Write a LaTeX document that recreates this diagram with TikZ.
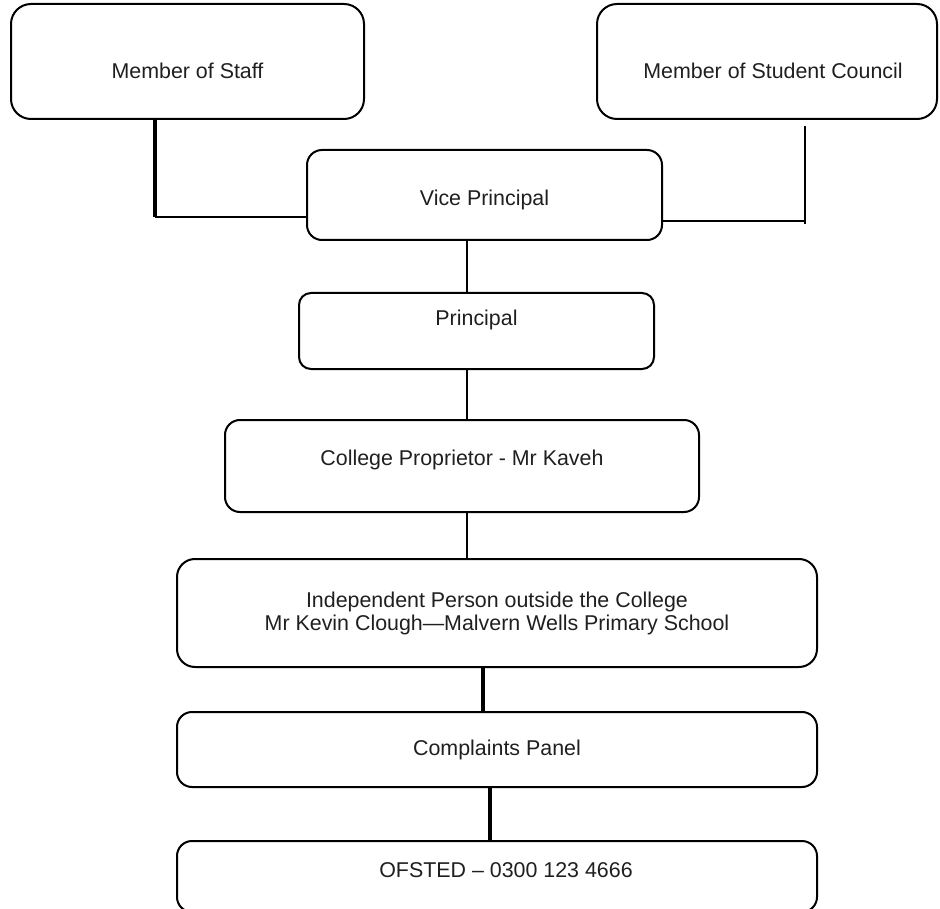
\documentclass[tikz,border=0pt]{standalone}
\usepackage{fontspec}
\setmainfont{Liberation Sans}
\newcommand{\lift}[2]{\raisebox{#1}[\height][\depth]{#2}}
\tikzset{box/.style={draw, black, line width=2pt, rounded corners=15pt, inner sep=0pt, align=center, text=black!88, font=\fontsize{21.4}{23}\selectfont}}
\tikzset{link/.style={line width=2.2pt, black}}
\tikzset{thinlink/.style={line width=1.6pt, black}}
\tikzset{thicklink/.style={line width=3.2pt, black}}

\begin{document}
\begin{tikzpicture}[x=1pt, y=-1pt]
		\useasboundingbox (0,0) rectangle (940,909);

		% Boxes
		\node[box, rounded corners=20pt, minimum width=353pt, minimum height=115pt] (staff) at (187.5,61.5) {\lift{-9pt}{Member of Staff}};
		\node[box, rounded corners=20pt, minimum width=340pt, minimum height=115pt] (council) at (767,61.5) {\lift{-9pt}{\hspace*{12pt}Member of Student Council}};
		\node[box, minimum width=355pt, minimum height=90pt] (vp) at (484.5,195) {\lift{-5pt}{Vice Principal}};
		\node[box, rounded corners=12pt, minimum width=355pt, minimum height=76pt] (prin) at (476.5,331) {\lift{11pt}{Principal}};
		\node[box, minimum width=474pt, minimum height=92pt] (prop) at (462,466) {\lift{6pt}{College Proprietor - Mr Kaveh}};
		\node[box, rounded corners=18pt, minimum width=640pt, minimum height=108pt] (indep) at (497,613) {Independent Person outside the College\\Mr Kevin Clough---Malvern Wells Primary School};
		\node[box, minimum width=640pt, minimum height=75pt] (panel) at (497,749.5) {Complaints Panel};
		\node[box, minimum width=640pt, minimum height=71pt] (ofsted) at (497,876.5) {\lift{6.5pt}{\hspace*{18pt}OFSTED -- 0300 123 4666}};

		% Knees and stems
		\coordinate (staffknee) at (155,217);
		\coordinate (councilknee) at (805,221);
		\coordinate (stem) at (467,0);
		\coordinate (stemb) at (483,0);
		\coordinate (stemc) at (490,0);

		% Connectors
		\draw[thicklink] (staff.south -| staffknee) -- (staffknee);
		\draw[thinlink] (staffknee) -- (vp.west |- staffknee);
		\draw[link] ([yshift=-6pt]council.south -| councilknee) -- ([yshift=-3pt]councilknee);
		\draw[thinlink] (vp.east |- councilknee) -- (councilknee);
		\draw[link] (vp.south -| stem) -- (prin.north -| stem);
		\draw[link] (prin.south -| stem) -- (prop.north -| stem);
		\draw[link] (prop.south -| stem) -- (indep.north -| stem);
		\draw[thicklink] (indep.south -| stemb) -- (panel.north -| stemb);
		\draw[thicklink] (panel.south -| stemc) -- (ofsted.north -| stemc);
	\end{tikzpicture}
\end{document}
